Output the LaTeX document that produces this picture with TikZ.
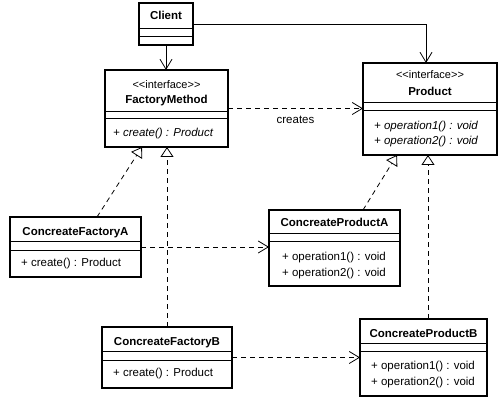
\documentclass[tikz,border=0pt]{standalone}
\usepackage{fontspec}
\setmainfont{Liberation Sans}
\usetikzlibrary{arrows.meta}
\newcommand\umlclass[7]{%
  \node[classbox,minimum width=#4pt,minimum height=#5pt] (#1) at (#2,#3) {};
  \draw[sepline] (#1.west |- 0,#6) -- (#1.east |- 0,#6);
  \draw[sepline] (#1.west |- 0,#7) -- (#1.east |- 0,#7);
}
\newcommand\stereotxt{<{}<interface>{}>}
\begin{document}
\begin{tikzpicture}[x=1pt,y=-1pt,
  classbox/.style={draw,line width=2pt,anchor=north west,inner sep=0pt,outer sep=0pt},
  sepline/.style={line width=1pt},
  txt/.style={inner sep=0pt,font=\fontsize{11.5}{13}\selectfont},
  nm/.style={txt,anchor=base,font=\fontsize{11.5}{13}\selectfont\bfseries},
  stereo/.style={inner sep=0pt,anchor=base,font=\fontsize{11}{12}\selectfont},
  op/.style={txt,anchor=base west},
  iop/.style={txt,anchor=base west,font=\fontsize{11.5}{13}\selectfont\itshape},
  assoc/.style={line width=0.8pt,-{Straight Barb[length=10pt,width=12pt,line width=0.8pt]}},
  dep/.style={line width=0.8pt,dash pattern=on 5pt off 4pt,-{Straight Barb[length=10pt,width=12pt,line width=0.8pt]}},
  realize/.style={line width=0.8pt,dash pattern=on 5pt off 4pt,-{Triangle[length=10pt,width=13pt,fill=white,line width=0.8pt]}}
]
\useasboundingbox (0,0) rectangle (499,406);
\fill[white] (0,0) rectangle (499,406);

\umlclass{client}{139}{3}{54}{42}{29}{37}
\umlclass{fm}{105}{70}{123}{77}{112}{119}
\umlclass{product}{363}{63}{134}{92}{103}{111}
\umlclass{cfa}{10}{217}{131}{60}{242}{251}
\umlclass{cpa}{269}{210}{131}{76}{234}{242}
\umlclass{cfb}{102}{327}{130}{61}{352}{361}
\umlclass{cpb}{360}{319}{127}{77}{344}{352}

\node[nm] (clientname) at (166,20) {Client};

\node[stereo] (fmst) at (166.5,88.5) {\stereotxt};
\node[nm] (fmname) at (166.5,104) {FactoryMethod};
\node[iop] (fmop) at (113,137) {+ create() : Product};

\node[stereo] (prst) at (430,79) {\stereotxt};
\node[nm] (prname) at (430,96) {Product};
\node[iop] (prop1) at (374,130) {+ operation1() : void};
\node[iop] (prop2) at (374,145) {+ operation2() : void};

\node[nm] (cfaname) at (75.5,236) {ConcreateFactoryA};
\node[op] (cfaop) at (21,267) {+ create() : Product};

\node[nm] (cpaname) at (334.5,227) {ConcreateProductA};
\node[op] (cpaop1) at (282,261) {+ operation1() : void};
\node[op] (cpaop2) at (282,277) {+ operation2() : void};

\node[nm] (cfbname) at (167,346) {ConcreateFactoryB};
\node[op] (cfbop) at (113,377) {+ create() : Product};

\node[nm] (cpbname) at (423.5,338) {ConcreateProductB};
\node[op] (cpbop1) at (371,370) {+ operation1() : void};
\node[op] (cpbop2) at (371,386) {+ operation2() : void};

% connectors
\draw[assoc] (client.south) -- (client.south |- fm.north);
\draw[assoc] (client.east) -| ([xshift=-4pt]product.north);
\draw[dep] (fm.east) -- (fm.east -| product.west)
  node[txt,midway,below=7pt] (createslbl) {creates};
\draw[realize] ([xshift=21.5pt]cfa.north) -- ([xshift=-24.5pt]fm.south);
\draw[realize] (cfb.north) -- (cfb.north |- fm.south);
\draw[dep] (cfa.east) -- (cfa.east -| cpa.west);
\draw[realize] ([xshift=28.5pt]cpa.north) -- ([xshift=-33pt]product.south);
\draw[realize] ([xshift=4.5pt]cpb.north) -- ([xshift=4.5pt]cpb.north |- product.south);
\draw[dep] (cfb.east) -- (cfb.east -| cpb.west);
\end{tikzpicture}
\end{document}
